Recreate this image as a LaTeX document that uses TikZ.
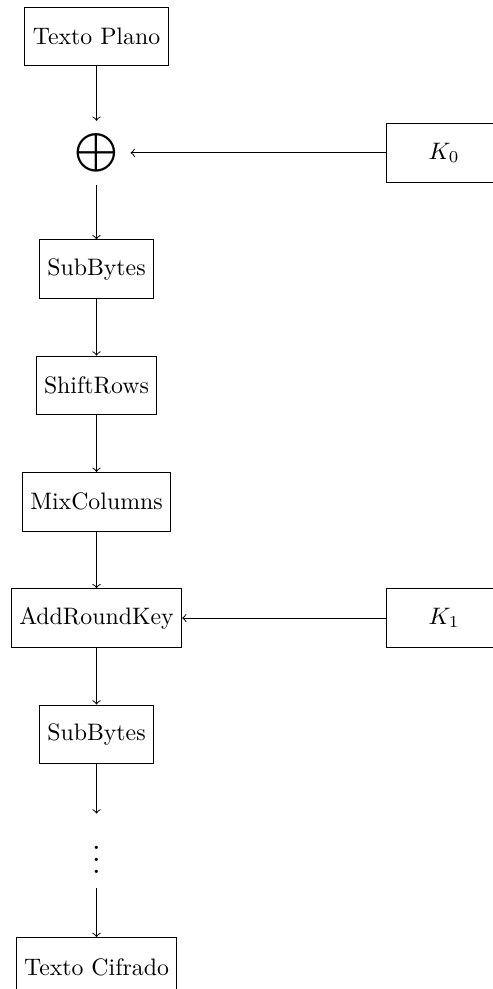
\documentclass[tikz,border=0pt]{standalone}
\usepackage{graphicx}
\begin{document}
\begin{tikzpicture}[x=0.42pt,y=-0.42pt,
  blk/.style={draw, minimum height=24.6pt, inner sep=3.33pt},
  keyblk/.style={blk, minimum width=48.7pt},
  flow/.style={->}]
\useasboundingbox (0,0) rectangle (492,989);
% main column
\node[blk] (pt)  at (96.5,36.5)  {Texto Plano};
\node[minimum width=28.2pt, minimum height=26.5pt, inner sep=0pt] (xor) at (96.5,152.8)
  {\scalebox{1.16}{$\displaystyle\bigoplus$}};
\node[blk] (sb1) at (96.5,269.1) {SubBytes};
\node[blk] (sr)  at (96.5,385.4) {ShiftRows};
\node[blk] (mc)  at (96.5,501.7) {MixColumns};
\node[blk] (ark) at (96.5,618.0) {AddRoundKey};
\node[blk] (sb2) at (96.5,734.3) {SubBytes};
\node[minimum height=30.7pt, inner sep=0pt] (dots) at (96.5,850.6) {\scalebox{1.3}{$\vdots$}};
\node[blk] (ct)  at (96.5,966.9) {Texto Cifrado};
% round keys
\node[keyblk] (k0) at (444,152.8) {$K_0$};
\node[keyblk] (k1) at (444,618.0) {$K_1$};
% connectors
\draw[flow] (pt) -- (xor);
\draw[flow] (xor) -- (sb1);
\draw[flow] (sb1) -- (sr);
\draw[flow] (sr) -- (mc);
\draw[flow] (mc) -- (ark);
\draw[flow] (ark) -- (sb2);
\draw[flow] (sb2) -- (dots);
\draw[flow] (dots) -- (ct);
\draw[flow] (k0) -- (xor);
\draw[flow] (k1) -- (ark);
\end{tikzpicture}
\end{document}
